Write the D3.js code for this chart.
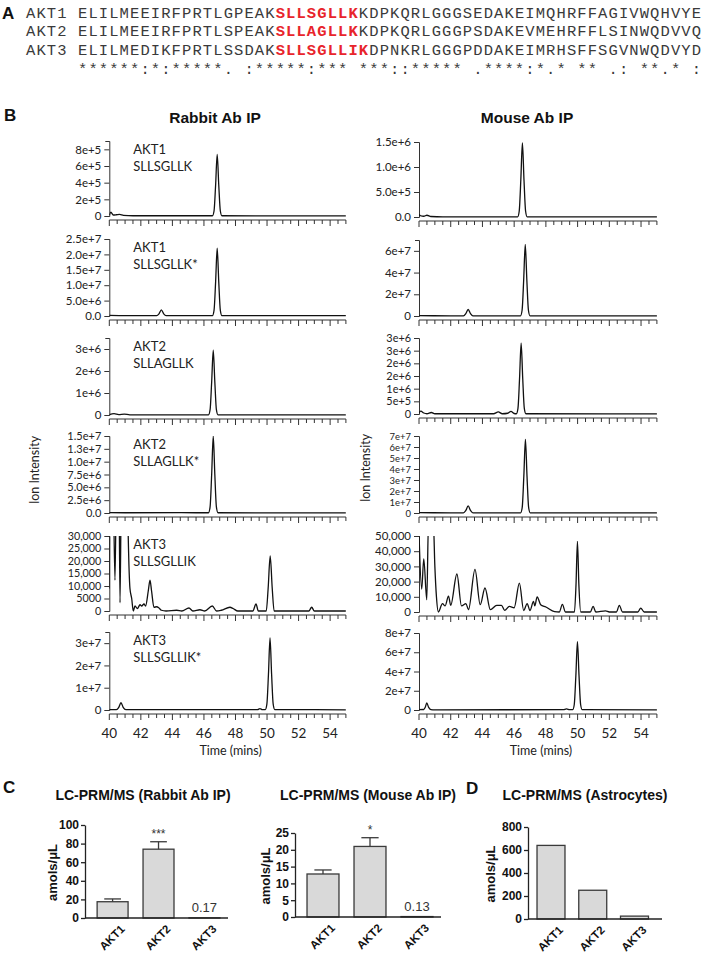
<!DOCTYPE html>
<html><head><meta charset="utf-8">
<script src="https://cdn.jsdelivr.net/npm/d3@7"></script>
<style>body{margin:0;background:#fff}svg{display:block}</style>
</head><body>
<svg id="fig" width="709" height="955"></svg>
<script>
// ---------- Panel A data ----------
const seqNames = ["AKT1", "AKT2", "AKT3"];
const seqPre = ["ELILMEEIRFPRTLGPEAK", "ELILMEEIRFPRTLSPEAK", "ELILMEDIKFPRTLSSDAK"];
const seqPep = ["SLLSGLLK", "SLLAGLLK", "SLLSGLLIK"];
const seqPost = ["KDPKQRLGGGSEDAKEIMQHRFFAGIVWQHVYE", "KDPKQRLGGGPSDAKEVMEHRFFLSINWQDVVQ", "DPNKRLGGGPDDAKEIMRHSFFSGVNWQDVYD"];
const conservation = "******:*:*****. :*****:*** ***::***** .****:*.* ** .: **.* :";

// ---------- Panel B data ----------
const timeTickLabels = [40, 42, 44, 46, 48, 50, 52, 54];
const rabbitTitle = "Rabbit Ab IP";
const mouseTitle = "Mouse Ab IP";
const peptideLabels = [["AKT1", "SLLSGLLK"], ["AKT1", "SLLSGLLK*"], ["AKT2", "SLLAGLLK"], ["AKT2", "SLLAGLLK*"], ["AKT3", "SLLSGLLIK"], ["AKT3", "SLLSGLLIK*"]];

const rabbitYMax = [9e5, 2.5e7, 3.5e6, 1.5e7, 30000, 3.5e7];
const rabbitTicks = [
  [0, 2e5, 4e5, 6e5, 8e5],
  [0, 5e6, 1e7, 1.5e7, 2e7, 2.5e7],
  [0, 1e6, 2e6, 3e6],
  [0, 2.5e6, 5e6, 7.5e6, 1e7, 1.25e7, 1.5e7],
  [0, 5000, 10000, 15000, 20000, 25000, 30000],
  [0, 1e7, 2e7, 3e7]];
const rabbitTickLabels = [
  ["0", "2e+5", "4e+5", "6e+5", "8e+5"],
  ["0.0", "5.0e+6", "1.0e+7", "1.5e+7", "2.0e+7", "2.5e+7"],
  ["0", "1e+6", "2e+6", "3e+6"],
  ["0.0", "2.5e+6", "5.0e+6", "7.5e+6", "1.0e+7", "1.3e+7", "1.5e+7"],
  ["0", "5000", "10,000", "15,000", "20,000", "25,000", "30,000"],
  ["0", "1e+7", "2e+7", "3e+7"]];

const mouseYMax = [1.5e6, 7e7, 3e6, 7e7, 50000, 8e7];
const mouseTicks = [
  [0, 5e5, 1e6, 1.5e6],
  [0, 2e7, 4e7, 6e7],
  [0, 5e5, 1e6, 1.5e6, 2e6, 2.5e6, 3e6],
  [0, 1e7, 2e7, 3e7, 4e7, 5e7, 6e7, 7e7],
  [0, 10000, 20000, 30000, 40000, 50000],
  [0, 2e7, 4e7, 6e7, 8e7]];
const mouseTickLabels = [
  ["0.0", "5.0e+5", "1.0e+6", "1.5e+6"],
  ["0", "2e+7", "4e+7", "6e+7"],
  ["0", "5e+5", "1e+6", "2e+6", "2e+6", "3e+6", "3e+6"],
  ["0", "1e+7", "2e+7", "3e+7", "4e+7", "5e+7", "6e+7", "7e+7"],
  ["0", "10,000", "20,000", "30,000", "40,000", "50,000"],
  ["0", "2e+7", "4e+7", "6e+7", "8e+7"]];

// chromatogram traces: [time (min), ion intensity]
const rabbitAKT1 = [[40,1e4],[40.1,4.5e4],[40.25,1.2e4],[40.45,1.5e4],[40.65,2e4],[40.9,8e3],[41.5,3e3],[46.54,3e3],[46.64,6e4],[46.74,3.7e5],[46.84,7.4e5],[46.94,3.7e5],[47.04,6e4],[47.14,3e3],[55,1e3]];
const rabbitAKT1H = [[40,2e5],[42,1e5],[43.0,1e5],[43.15,7e5],[43.3,2e6],[43.45,7e5],[43.6,1e5],[46.54,1e5],[46.64,1.8e6],[46.74,1.1e7],[46.84,2.2e7],[46.94,1.1e7],[47.04,1.8e6],[47.14,1e5],[55,1e5]];
const rabbitAKT2 = [[40,2e4],[40.3,6e4],[40.6,2e4],[40.95,4e4],[41.3,1e4],[46.29,1e4],[46.39,2.4e5],[46.49,1.5e6],[46.59,2.95e6],[46.69,1.5e6],[46.79,2.4e5],[46.89,1e4],[55,5e3]];
const rabbitAKT2H = [[40,6e4],[41,5e4],[44.5,6e4],[45.5,5e4],[46.29,5e4],[46.39,1.2e6],[46.49,7.5e6],[46.59,1.5e7],[46.69,7.5e6],[46.79,1.2e6],[46.89,5e4],[55,3e4]];
const rabbitAKT3 = [[40.0,9000],[40.04,60000],[40.22,60000],[40.36,12300],[40.47,60000],[40.6,60000],[40.68,3300],[40.78,60000],[41.12,60000],[41.2,30000],[41.31,9000],[41.42,5000],[41.52,0],[41.63,2000],[41.78,1000],[41.95,2500],[42.05,2000],[42.2,2800],[42.3,2000],[42.47,8000],[42.58,12300],[42.68,8000],[42.83,1500],[43.0,1700],[43.15,1200],[43.3,300],[43.6,0],[44.27,300],[44.6,0],[45.05,1200],[45.3,0],[45.75,500],[46.05,0],[46.53,2000],[46.8,0],[47.1,300],[47.65,1500],[47.85,1000],[48.15,0],[49.1,0],[49.3,2800],[49.45,0],[49.95,0],[50.07,9000],[50.2,22000],[50.33,9000],[50.45,0],[52.65,0],[52.83,1500],[53.0,0],[55,0]];
const rabbitAKT3H = [[40,2e5],[40.45,2e5],[40.6,1.2e6],[40.74,3.3e6],[40.88,1.2e6],[41.05,2e5],[49.4,2e5],[49.55,6e5],[49.7,2e5],[49.89,2e5],[49.99,2.6e6],[50.09,1.6e7],[50.19,3.23e7],[50.29,1.6e7],[50.39,2.6e6],[50.49,2e5],[55,1e5]];

const mouseAKT1 = [[40,5e4],[40.1,2.5e4],[40.3,1.5e4],[40.5,3.5e4],[40.75,1e4],[41.5,3e3],[46.22,3e3],[46.32,1.2e5],[46.42,7.4e5],[46.52,1.48e6],[46.62,7.4e5],[46.72,1.2e5],[46.82,3e3],[55,1e3]];
const mouseAKT1H = [[40,3e5],[42,2e5],[42.8,2e5],[42.95,2.2e6],[43.1,6e6],[43.25,2.2e6],[43.4,2e5],[46.4,2e5],[46.5,5.3e6],[46.6,3.3e7],[46.7,6.6e7],[46.8,3.3e7],[46.9,5.3e6],[47.0,2e5],[55,1e5]];
const mouseAKT2 = [[40,5e4],[40.12,1.1e5],[40.3,4e4],[40.5,1e4],[40.78,6e4],[41.0,1e4],[44.7,1e4],[45.0,8e4],[45.25,1e4],[45.6,3e4],[45.8,1e5],[46.0,2e4],[46.14,1e4],[46.24,2.2e5],[46.34,1.4e6],[46.44,2.8e6],[46.54,1.4e6],[46.64,2.2e5],[46.74,1e4],[55,5e3]];
const mouseAKT2H = [[40,3e5],[42,2e5],[42.8,2e5],[42.95,2.3e6],[43.1,6.4e6],[43.25,2.3e6],[43.4,2e5],[46.41,2e5],[46.51,5.4e6],[46.61,3.35e7],[46.71,6.7e7],[46.81,3.35e7],[46.91,5.4e6],[47.01,2e5],[55,1e5]];
const mouseAKT3 = [[40.0,52000],[40.17,15000],[40.3,35000],[40.49,8000],[40.6,60000],[40.9,60000],[41.0,30000],[41.1,10000],[41.22,0],[41.48,5500],[41.65,4000],[41.86,10500],[42.0,4400],[42.39,25000],[42.68,4000],[42.96,5500],[43.12,1500],[43.53,28000],[43.86,4800],[44.16,15800],[44.5,1500],[44.9,4400],[45.2,4400],[45.4,1100],[45.7,3700],[46.0,2800],[46.33,19000],[46.6,1000],[46.82,5500],[47.0,1000],[47.22,7000],[47.3,4000],[47.45,10000],[47.67,4800],[48.0,3300],[48.55,200],[48.85,0],[49.04,5000],[49.23,0],[49.8,0],[49.9,18000],[49.99,46500],[50.08,18000],[50.2,0],[50.8,0],[50.98,3700],[51.15,0],[51.76,700],[52.0,0],[52.45,0],[52.63,4400],[52.83,0],[53.8,0],[53.98,2600],[54.2,0],[55,0]];
const mouseAKT3H = [[40,3e5],[40.3,5e5],[40.4,3e6],[40.49,7.5e6],[40.6,3e6],[40.75,5e5],[41,2e5],[49.1,3e5],[49.3,1.2e6],[49.5,3e5],[49.69,3e5],[49.79,5.7e6],[49.89,3.55e7],[49.99,7.1e7],[50.09,3.55e7],[50.19,5.7e6],[50.29,3e5],[55,2e5]];

const rabbitSeries = [rabbitAKT1, rabbitAKT1H, rabbitAKT2, rabbitAKT2H, rabbitAKT3, rabbitAKT3H];
const mouseSeries = [mouseAKT1, mouseAKT1H, mouseAKT2, mouseAKT2H, mouseAKT3, mouseAKT3H];

// ---------- Panels C/D data ----------
const barCats = ["AKT1", "AKT2", "AKT3"];
const rabbitMean = [17.5, 74, 0.17];
const rabbitSEM = [3, 8, 0];
const rabbitTicksC = [0, 20, 40, 60, 80, 100];
const mouseMean = [12.8, 21, 0.13];
const mouseSEM = [1.2, 2.6, 0];
const mouseTicksC = [0, 5, 10, 15, 20, 25];
const astroMean = [640, 250, 25];
const astroTicks = [0, 200, 400, 600, 800];
const titleC1 = "LC-PRM/MS (Rabbit Ab IP)";
const titleC2 = "LC-PRM/MS (Mouse Ab IP)";
const titleD = "LC-PRM/MS (Astrocytes)";
const sigC1 = ["", "***", "0.17"];
const sigC2 = ["", "*", "0.13"];

// ================= drawing =================
const svg = d3.select("#fig");
const ARIAL = "'Liberation Sans', Arial, sans-serif";
const LATO = "Lato, 'Open Sans', sans-serif";
const AXC = "#333";
const defs = svg.append("defs");

function panelLetter(t, x, y) {
  svg.append("text").attr("x", x).attr("y", y).text(t)
    .attr("font-family", ARIAL).attr("font-weight", "bold").attr("font-size", 17).attr("fill", "#111");
}

// ---- Panel A ----
panelLetter("A", 2, 19);
const rowY = [18, 36, 55, 74];
const monoAttrs = sel => sel.attr("font-family", "'Liberation Mono', monospace").attr("font-size", 15.5)
  .attr("letter-spacing", 1.1).attr("fill", "#3a3a3a").style("white-space", "pre");
seqNames.forEach((n, i) => {
  const t = svg.append("text").attr("x", 26).attr("y", rowY[i]).call(monoAttrs);
  t.append("tspan").text(n + " " + seqPre[i]);
  t.append("tspan").attr("fill", "#e8242b").attr("font-weight", "bold").text(seqPep[i]);
  t.append("tspan").text(seqPost[i]);
});
svg.append("text").attr("x", 26).attr("y", rowY[3]).call(monoAttrs).text("     " + conservation);

// ---- Panel B ----
panelLetter("B", 4, 121);
svg.append("text").attr("x", 215).attr("y", 123).attr("text-anchor", "middle").text(rabbitTitle)
  .attr("font-family", ARIAL).attr("font-weight", "bold").attr("font-size", 15.5).attr("fill", "#111");
svg.append("text").attr("x", 527).attr("y", 123).attr("text-anchor", "middle").text(mouseTitle)
  .attr("font-family", ARIAL).attr("font-weight", "bold").attr("font-size", 15.5).attr("fill", "#111");

const rabbitX = [109.3, 345.9], mouseX = [419, 656.9];
const rabbitZero = [216, 316, 415, 513, 611, 710], rabbitTop = [141, 239, 338, 436, 536, 632];
const mouseZero = [217, 316, 414, 513, 612, 710], mouseTop = [142, 240, 338, 436, 536, 633];

let clipN = 0;
function chrom(xr, zeroY, topY, yMax, ticks, labels, data, bottom, pepLabel) {
  const x = d3.scaleLinear().domain([40, 55]).range(xr);
  const y = d3.scaleLinear().domain([0, yMax]).range([zeroY, topY]);
  const g = svg.append("g");
  const ax = x(40);
  const gap = Math.abs(y(ticks[1]) - y(ticks[0]));
  const fs = Math.min(11.5, gap * 0.86);
  const ya = g.append("g").attr("transform", `translate(${ax},0)`)
    .call(d3.axisLeft(y).tickValues(ticks).tickFormat((d, i) => labels[i]).tickSize(5).tickSizeOuter(4).tickPadding(3));
  ya.select(".domain").attr("stroke", AXC);
  ya.selectAll(".tick line").attr("stroke", AXC);
  ya.selectAll(".tick text").attr("font-family", LATO).attr("font-size", fs).attr("fill", "#222");
  // x axis
  const xa = zeroY + 4;
  g.append("line").attr("x1", x(40)).attr("x2", x(55)).attr("y1", xa).attr("y2", xa).attr("stroke", AXC);
  g.selectAll("line.mt").data(d3.range(40, 55.01, 0.5)).join("line").attr("class", "mt")
    .attr("x1", d => x(d)).attr("x2", d => x(d)).attr("y1", xa).attr("y2", d => xa + (d % 2 === 0 ? 6 : 4))
    .attr("stroke", AXC);
  if (bottom) {
    g.selectAll("text.xt").data(timeTickLabels).join("text").attr("class", "xt")
      .attr("x", d => x(d)).attr("y", xa + 24).attr("text-anchor", "middle").text(d => d)
      .attr("font-family", LATO).attr("font-size", 13.5).attr("fill", "#222");
    g.append("text").attr("x", (x(40) + x(55)) / 2 + 3).attr("y", xa + 41).attr("text-anchor", "middle")
      .text("Time (mins)").attr("font-family", LATO).attr("font-size", 12.5).attr("fill", "#222");
  }
  const id = "clip" + (clipN++);
  defs.append("clipPath").attr("id", id).append("rect")
    .attr("x", x(40)).attr("y", topY).attr("width", x(55) - x(40)).attr("height", zeroY - topY + 3);
  g.append("path").datum(data).attr("clip-path", `url(#${id})`)
    .attr("d", d3.line().x(d => x(d[0])).y(d => y(d[1])).curve(d3.curveMonotoneX))
    .attr("fill", "none").attr("stroke", "#111").attr("stroke-width", 1.3).attr("stroke-linejoin", "round");
  if (pepLabel) {
    pepLabel.forEach((s, k) => g.append("text").attr("x", x(40) + 24).attr("y", topY + 13 + k * 17).text(s)
      .attr("font-family", LATO).attr("font-size", 13).attr("fill", "#222"));
  }
}

for (let i = 0; i < 6; i++) {
  chrom(rabbitX, rabbitZero[i], rabbitTop[i], rabbitYMax[i], rabbitTicks[i], rabbitTickLabels[i], rabbitSeries[i], i === 5, peptideLabels[i]);
  chrom(mouseX, mouseZero[i], mouseTop[i], mouseYMax[i], mouseTicks[i], mouseTickLabels[i], mouseSeries[i], i === 5, null);
}
[[35, 470], [366, 468]].forEach(p => svg.append("text")
  .attr("transform", `translate(${p[0]},${p[1]}) rotate(-90)`).attr("text-anchor", "middle").attr("dy", "0.35em")
  .text("Ion Intensity").attr("font-family", LATO).attr("font-size", 12.5).attr("fill", "#222"));

// ---- Panels C, D ----
panelLetter("C", 3, 793);
panelLetter("D", 466, 794);

function barChart(o) {
  const x = d3.scaleBand().domain(barCats).range([o.x0, o.x1]).paddingInner(o.pi).paddingOuter(o.po).align(o.al);
  const y = d3.scaleLinear().domain([0, o.yMax]).range([o.zeroY, o.topY]);
  const g = svg.append("g");
  g.append("text").attr("x", o.tx).attr("y", 800).attr("text-anchor", "middle").text(o.title)
    .attr("font-family", ARIAL).attr("font-weight", "bold").attr("font-size", 14).attr("fill", "#111");
  const bw = x.bandwidth();
  g.selectAll("rect").data(o.mean).join("rect")
    .attr("x", (d, i) => x(barCats[i])).attr("y", d => y(d)).attr("width", bw).attr("height", d => o.zeroY - y(d))
    .attr("fill", "#d9d9d9").attr("stroke", "#3a3a3a").attr("stroke-width", 1.3);
  if (o.err) {
    o.err.forEach((e, i) => {
      if (!e) return;
      const cx = x(barCats[i]) + bw / 2;
      g.append("line").attr("x1", cx).attr("x2", cx).attr("y1", y(o.mean[i])).attr("y2", y(o.mean[i] + e)).attr("stroke", "#3a3a3a").attr("stroke-width", 1.3);
      g.append("line").attr("x1", cx - bw * 0.27).attr("x2", cx + bw * 0.27).attr("y1", y(o.mean[i] + e)).attr("y2", y(o.mean[i] + e)).attr("stroke", "#3a3a3a").attr("stroke-width", 1.3);
    });
  }
  if (o.sig) {
    o.sig.forEach((s, i) => {
      if (!s) return;
      const cx = x(barCats[i]) + bw / 2;
      if (s.startsWith("*")) {
        g.append("text").attr("x", cx).attr("y", y(o.mean[i] + o.err[i]) - 4).attr("text-anchor", "middle").text(s)
          .attr("font-family", ARIAL).attr("font-size", 12).attr("fill", "#333");
      } else {
        g.append("text").attr("x", cx).attr("y", o.zeroY - 6).attr("text-anchor", "middle").text(s)
          .attr("font-family", ARIAL).attr("font-size", 13).attr("fill", "#333");
      }
    });
  }
  const ya = g.append("g").attr("transform", `translate(${o.x0},0)`)
    .call(d3.axisLeft(y).tickValues(o.ticks).tickSize(4).tickSizeOuter(0).tickPadding(2));
  ya.select(".domain").attr("stroke", "#222").attr("stroke-width", 1.3);
  ya.selectAll(".tick line").attr("stroke", "#222").attr("stroke-width", 1.3);
  ya.selectAll(".tick text").attr("font-family", ARIAL).attr("font-weight", "bold").attr("font-size", 12).attr("fill", "#111");
  g.append("line").attr("x1", o.x0).attr("x2", o.x1).attr("y1", o.zeroY).attr("y2", o.zeroY).attr("stroke", "#222").attr("stroke-width", 1.3);
  g.selectAll("text.xl").data(barCats).join("text").attr("class", "xl")
    .attr("transform", d => `translate(${x(d) + bw / 2 + 10},${o.zeroY + 9}) rotate(-45)`)
    .attr("text-anchor", "end").attr("dy", "0.35em").text(d => d)
    .attr("font-family", ARIAL).attr("font-weight", "bold").attr("font-size", 11.5).attr("fill", "#111");
  g.append("text").attr("transform", `translate(${o.lx},${(o.zeroY + o.topY) / 2 + 1}) rotate(-90)`)
    .attr("text-anchor", "middle").attr("dy", "0.35em").text("amols/μL")
    .attr("font-family", ARIAL).attr("font-weight", "bold").attr("font-size", 13).attr("fill", "#111");
}

barChart({x0: 85, x1: 228, pi: 0.326, po: 0.22, al: 0.6, zeroY: 918, topY: 825, yMax: 100, ticks: rabbitTicksC,
  mean: rabbitMean, err: rabbitSEM, sig: sigC1, title: titleC1, tx: 143, lx: 52});
barChart({x0: 295, x1: 441, pi: 0.32, po: 0.213, al: 0.6, zeroY: 917, topY: 833, yMax: 25, ticks: mouseTicksC,
  mean: mouseMean, err: mouseSEM, sig: sigC2, title: titleC2, tx: 368, lx: 265});
barChart({x0: 528, x1: 662, pi: 0.33, po: 0.27, al: 0.4, zeroY: 919, topY: 827, yMax: 800, ticks: astroTicks,
  mean: astroMean, err: null, sig: null, title: titleD, tx: 585, lx: 490});
</script>
</body></html>
